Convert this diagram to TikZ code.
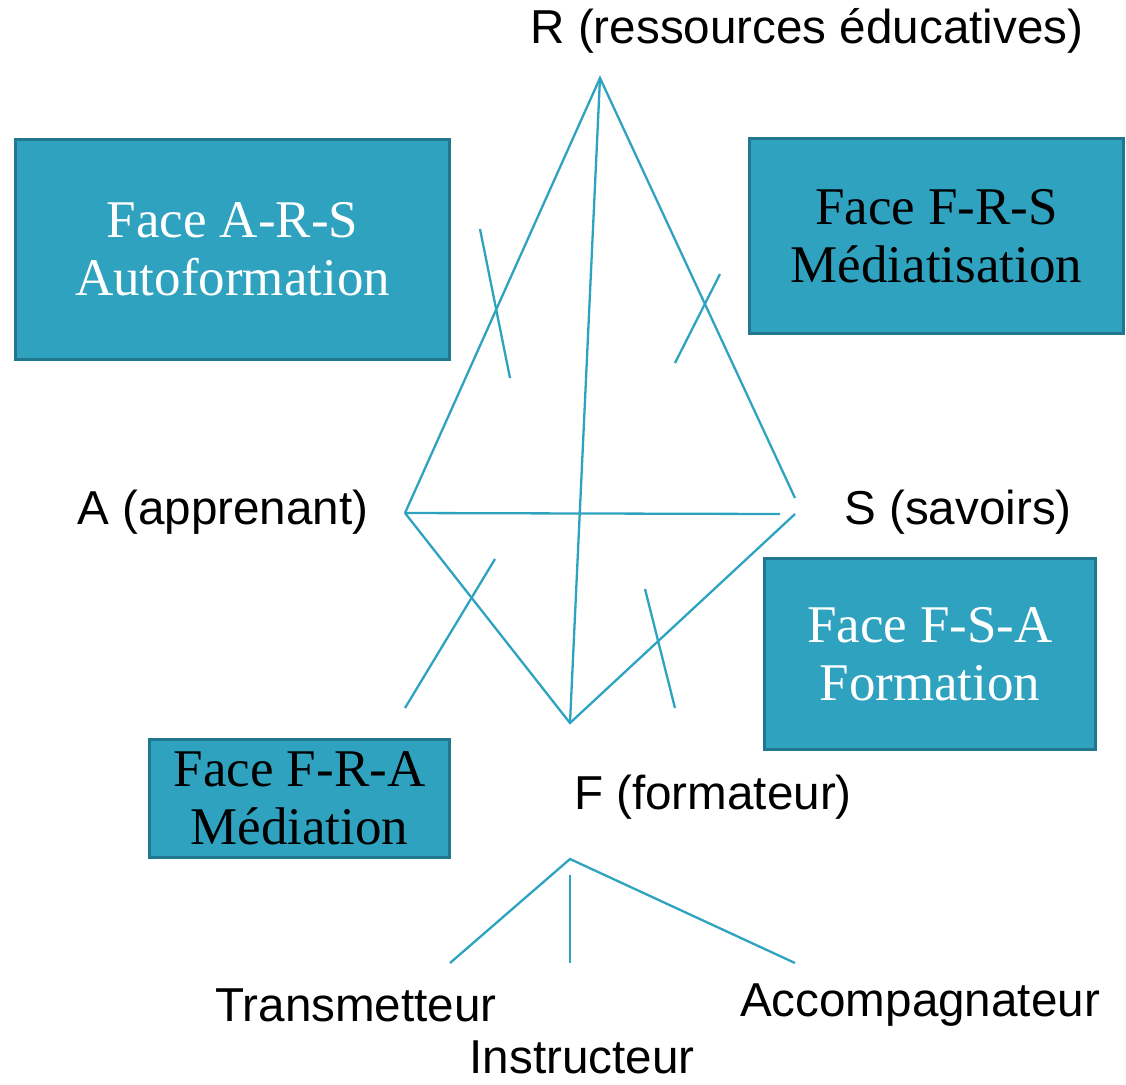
\documentclass[tikz,border=0pt]{standalone}
\usepackage{fontspec}
\setmainfont{Liberation Sans}
\newfontfamily\boxfont{Liberation Serif}
\definecolor{tealfill}{HTML}{2EA2BF}
\definecolor{tealedge}{HTML}{21788E}
\definecolor{tealline}{HTML}{2DA3C0}
\begin{document}
\begin{tikzpicture}[x=0.5pt,y=-0.5pt,
  facebox/.style={draw=tealedge,fill=tealfill,line width=1.5pt,inner sep=0pt,
    align=center,font=\boxfont\fontsize{26.5}{29}\selectfont},
  lab/.style={inner sep=0pt,font=\fontsize{23.8}{28}\selectfont},
  edge/.style={draw=tealline,line width=1.15pt}]
\useasboundingbox (0,0) rectangle (1126,1084);
% boxes
\node[facebox,text=white,minimum width=217pt,minimum height=110pt] (ars) at (232.5,249.5) {Face A-R-S\\Autoformation};
\node[facebox,text=black,minimum width=187pt,minimum height=97.5pt] (frs) at (936.5,236) {Face F-R-S\\Médiatisation};
\node[facebox,text=white,minimum width=165.5pt,minimum height=95.5pt] (fsa) at (930,654) {Face F-S-A\\Formation};
\node[facebox,text=black,minimum width=150pt,minimum height=59pt] (fra) at (299.5,798.5) {Face F-R-A\\Médiation};
% labels
\node[lab] (lR) at (807,31) {R (ressources éducatives)};
\node[lab] (lA) at (223,512) {A (apprenant)};
\node[lab] (lS) at (958,512) {S (savoirs)};
\node[lab] (lF) at (713,797) {F (formateur)};
\node[lab] (lT) at (356,1005) {Transmetteur};
\node[lab] (lAc) at (920,1005) {Accompagnateur};
\node[lab] (lI) at (582,1057) {Instructeur};
% vertices
\coordinate (R) at (600,78);
\coordinate (A) at (405,513);
\coordinate (S1) at (795,498);
\coordinate (S2) at (780,514);
\coordinate (S3) at (795,514);
\coordinate (F) at (570,723);
% tetrahedron
\draw[edge] (A) -- (R) -- (S1);
\draw[edge] (R) -- (F);
\draw[edge] (A) -- (S2);
\draw[edge] (A) -- (F) -- (S3);
% face ticks
\coordinate (t1a) at (480,229); \coordinate (t1b) at (510,378);
\coordinate (t2a) at (720,274); \coordinate (t2b) at (675,363);
\coordinate (t3a) at (495,559); \coordinate (t3b) at (405,708);
\coordinate (t4a) at (645,589); \coordinate (t4b) at (675,708);
\draw[edge] (t1a) -- (t1b);
\draw[edge] (t2a) -- (t2b);
\draw[edge] (t3a) -- (t3b);
\draw[edge] (t4a) -- (t4b);
% roles tree
\coordinate (top) at (570,859);
\coordinate (bl) at (450,963);
\coordinate (mt) at (570,875);
\coordinate (mb) at (570,963);
\coordinate (br) at (795,963);
\draw[edge] (bl) -- (top) -- (br);
\draw[edge] (mt) -- (mb);
\end{tikzpicture}
\end{document}
